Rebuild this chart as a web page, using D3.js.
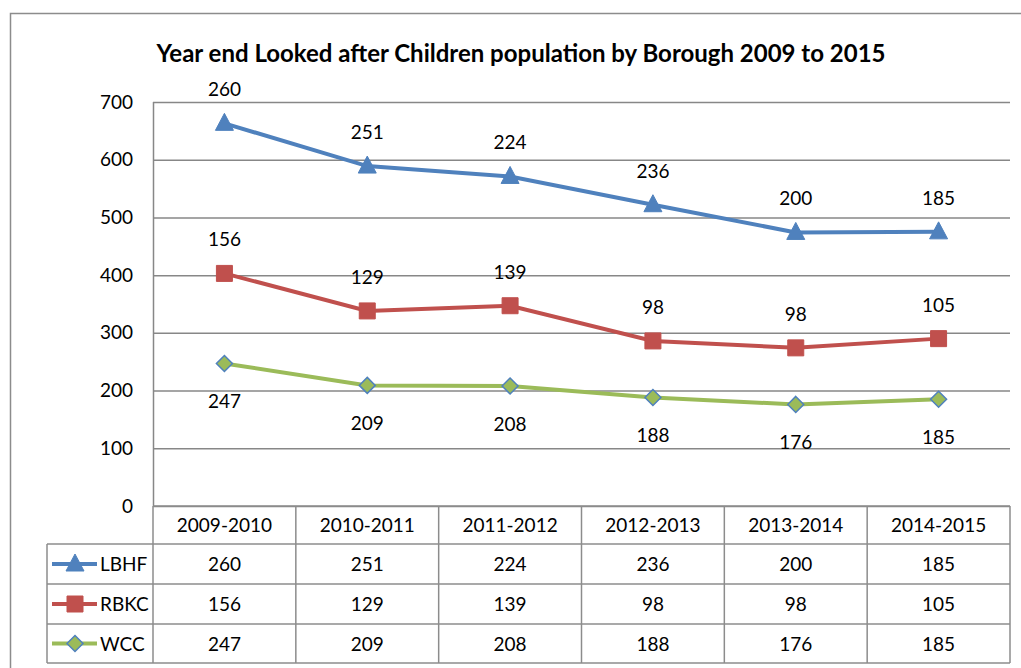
<!DOCTYPE html>
<html>
<head>
<meta charset="utf-8">
<script src="https://cdn.jsdelivr.net/npm/d3@7"></script>
<style>
  body { margin: 0; background: #fff; }
  svg { font-family: Lato, "Open Sans", sans-serif; }
</style>
</head>
<body>
<svg width="1021" height="668"></svg>
<script>
const categories = ["2009-2010", "2010-2011", "2011-2012", "2012-2013", "2013-2014", "2014-2015"]
const lbhf = [260, 251, 224, 236, 200, 185]
const rbkc = [156, 129, 139, 98, 98, 105]
const wcc = [247, 209, 208, 188, 176, 185]
const yTicks = [0, 100, 200, 300, 400, 500, 600, 700]

// stack order: WCC at the bottom, then RBKC, then LBHF
const series = [
    {name: "WCC", values: wcc, color: "#9BBB59", marker: "diamond", labelPos: "below"},
    {name: "RBKC", values: rbkc, color: "#C0504D", marker: "square", labelPos: "above"},
    {name: "LBHF", values: lbhf, color: "#4F81BD", marker: "triangle", labelPos: "above"}
]
const tableOrder = ["LBHF", "RBKC", "WCC"]

const svg = d3.select("svg")
const margin = {left: 153, top: 102, right: 11}
const plotW = 1010 - margin.left
const plotH = 506 - margin.top

// outer frame
svg.append("path")
    .attr("d", "M10.5,668 L10.5,13.5 L1021,13.5")
    .attr("fill", "none").attr("stroke", "#8c8c8c").attr("stroke-width", 1.5)

svg.append("text")
    .attr("x", 521).attr("y", 62)
    .attr("text-anchor", "middle")
    .style("font-size", "24px").style("font-weight", "bold")
    .text("Year end Looked after Children population by Borough 2009 to 2015")

const g = svg.append("g").attr("transform", "translate(" + margin.left + "," + margin.top + ")")

const scaleX = d3.scaleBand().domain(categories).range([0, plotW])
const scaleY = d3.scaleLinear().domain([0, 700]).range([plotH, 0])

// gridlines + y axis
const gY = g.append("g").attr("class", "gY")
    .call(d3.axisLeft(scaleY).tickValues(yTicks).tickSize(-plotW).tickPadding(20))
gY.select(".domain").remove()
gY.selectAll(".tick line").attr("stroke", "#878787").attr("stroke-width", 1.5)
gY.selectAll(".tick text").style("font-size", "19px").style("font-family", "Lato, sans-serif").attr("fill", "#000")

// left axis line
g.append("line").attr("x1", 0.5).attr("x2", 0.5).attr("y1", 0).attr("y2", plotH)
    .attr("stroke", "#878787").attr("stroke-width", 1.5)

// stacked values
const stacked = []
let running = categories.map(() => 0)
series.forEach(s => {
    running = running.map((r, i) => r + s.values[i])
    stacked.push({s: s, tops: running.slice()})
})

const line = d3.line()
    .x((d, i) => scaleX(categories[i]) + scaleX.bandwidth() / 2)
    .y(d => scaleY(d))

function markerPath(type) {
    if (type == "triangle") return "M0,-10 L9,7 L-9,7 Z"
    if (type == "square") return "M-8,-8 L8,-8 L8,8 L-8,8 Z"
    return "M0,-8 L8,0 L0,8 L-8,0 Z"
}
function drawMarker(sel, s) {
    sel.append("path").attr("d", markerPath(s.marker))
        .attr("fill", s.color)
        .attr("stroke", s.marker == "diamond" ? "#4F81BD" : s.color)
        .attr("stroke-width", s.marker == "diamond" ? 1.5 : 1)
}

stacked.forEach(st => {
    g.append("path")
        .attr("d", line(st.tops))
        .attr("fill", "none").attr("stroke", st.s.color).attr("stroke-width", 4)
    st.tops.forEach((v, i) => {
        const cx = scaleX(categories[i]) + scaleX.bandwidth() / 2
        const cy = scaleY(v)
        const m = g.append("g").attr("transform", "translate(" + cx + "," + cy + ")")
        drawMarker(m, st.s)
        g.append("text")
            .attr("x", cx)
            .attr("y", st.s.labelPos == "above" ? cy - 27 : cy + 45)
            .attr("text-anchor", "middle")
            .style("font-size", "19px")
            .text(st.s.values[i])
    })
})

// data table
const table = svg.append("g")
const rowH = [38, 40, 40, 39]
const tableTop = 506
const rowY = [tableTop]
rowH.forEach(h => rowY.push(rowY[rowY.length - 1] + h))
const colX = categories.map(c => margin.left + scaleX(c))
colX.push(margin.left + plotW)
const tableStroke = "#8c8c8c"

// horizontal lines
rowY.forEach((y, i) => {
    table.append("line")
        .attr("x1", i == 0 ? margin.left : 47).attr("x2", margin.left + plotW)
        .attr("y1", y).attr("y2", y)
        .attr("stroke", tableStroke).attr("stroke-width", 1.5)
})
// vertical lines
colX.forEach(x => {
    table.append("line").attr("x1", x).attr("x2", x)
        .attr("y1", tableTop).attr("y2", rowY[rowY.length - 1])
        .attr("stroke", tableStroke).attr("stroke-width", 1.5)
})
table.append("line").attr("x1", 47).attr("x2", 47)
    .attr("y1", rowY[1]).attr("y2", rowY[rowY.length - 1])
    .attr("stroke", tableStroke).attr("stroke-width", 1.5)

categories.forEach((c, i) => {
    table.append("text")
        .attr("x", colX[i] + scaleX.bandwidth() / 2).attr("y", (rowY[0] + rowY[1]) / 2 + 7)
        .attr("text-anchor", "middle").style("font-size", "19px").text(c)
})

tableOrder.forEach((name, r) => {
    const s = series.find(d => d.name == name)
    const yc = (rowY[r + 1] + rowY[r + 2]) / 2
    table.append("line").attr("x1", 52).attr("x2", 97).attr("y1", yc).attr("y2", yc)
        .attr("stroke", s.color).attr("stroke-width", 4)
    const m = table.append("g").attr("transform", "translate(75," + yc + ")")
    drawMarker(m, s)
    table.append("text").attr("x", 100).attr("y", yc + 7)
        .style("font-size", "19px").text(name)
    s.values.forEach((v, i) => {
        table.append("text")
            .attr("x", colX[i] + scaleX.bandwidth() / 2).attr("y", yc + 7)
            .attr("text-anchor", "middle").style("font-size", "19px").text(v)
    })
})
</script>
</body>
</html>
